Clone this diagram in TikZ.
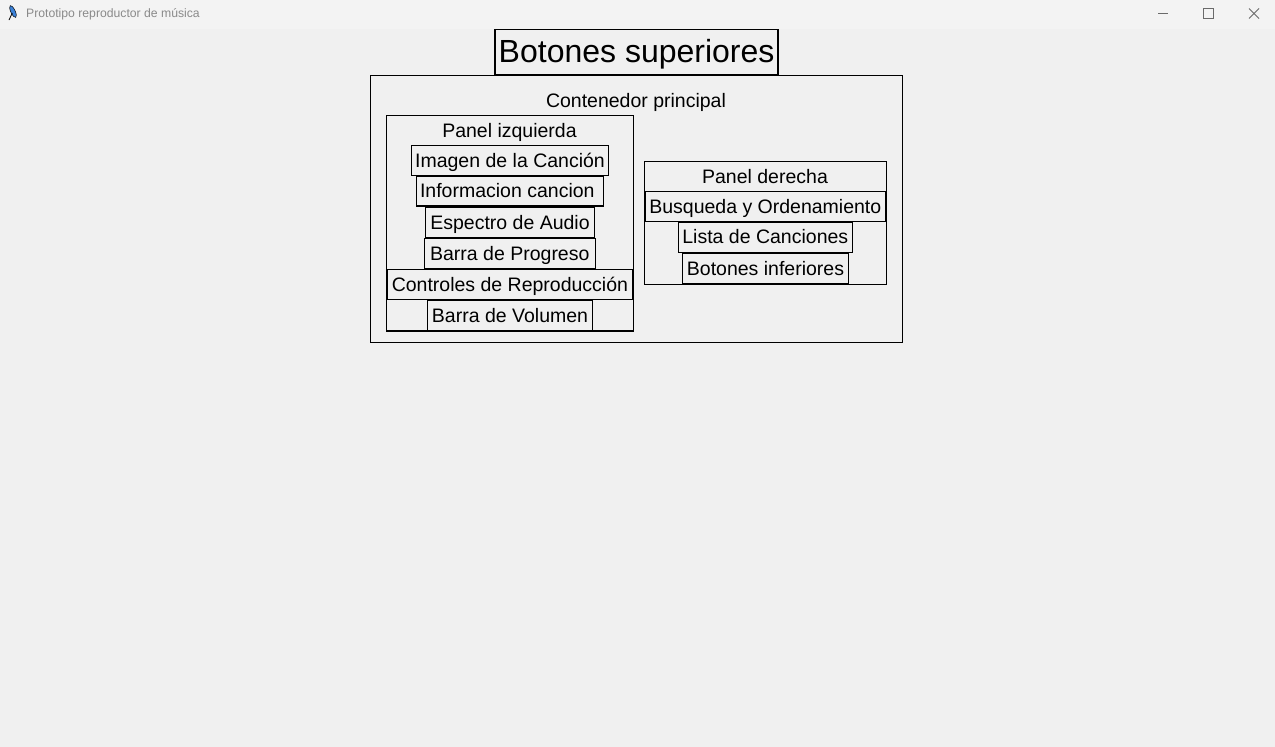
\documentclass[tikz,border=0pt]{standalone}
\usepackage{fontspec}
\setmainfont{Liberation Sans}
\definecolor{winbg}{HTML}{F0F0F0}
\definecolor{titlebg}{HTML}{F3F3F3}
\definecolor{titletxt}{HTML}{8A8A8A}
\definecolor{ctrl}{HTML}{6A6A6A}
\definecolor{feather}{HTML}{3C82D8}
\begin{document}
\begin{tikzpicture}[x=1pt,y=-1pt,
  frm/.style={draw=black,line width=1.2pt,inner sep=0pt},
  lbl/.style={draw=black,line width=1.3pt,inner sep=0pt,
    font=\fontsize{19.5}{23}\selectfont,text height=17.65pt,text depth=4.13pt},
  big/.style={draw=black,line width=1.3pt,inner sep=0pt,
    font=\fontsize{32}{38}\selectfont,text height=28.96pt,text depth=6.78pt},
  captxt/.style={inner sep=0pt,font=\fontsize{19.5}{23}\selectfont,
    text height=17.65pt,text depth=4.13pt},
  wctl/.style={draw=ctrl,line width=0.9pt}]
% background and title bar
\fill[winbg] (0,0) rectangle (1275,747);
\fill[titlebg] (0,0) rectangle (1275,29);
\useasboundingbox (0,0) rectangle (1275,747);
% window icon (feather)
\fill[feather,draw=black,line width=0.5pt,rotate around={-65:(13,11.5)}] (13,11.5) ellipse (6.5pt and 2.2pt);
\draw[black,line width=0.8pt] (9,20) -- (12.3,13);
\node[anchor=base west,inner sep=0pt,text=titletxt,font=\fontsize{12.2}{14}\selectfont] (title) at (26,17.5) {Prototipo reproductor de música};
% window controls
\draw[wctl] (1158,13.3) -- (1168,13.3);
\draw[wctl] (1203.3,8.3) rectangle (1213,18.3);
\draw[wctl] (1249,8.5) -- (1259,18.5);
\draw[wctl] (1249,18.5) -- (1259,8.5);
% top buttons
\node[big,minimum width=283pt,minimum height=45pt] (top) at (636.6,51.7) {Botones superiores};
% main container
\node[frm,minimum width=532.4pt,minimum height=266.6pt] (main) at (636.5,209) {};
\node[captxt] (maincap) at (636,100.5) {Contenedor principal};
% left panel
\node[frm,minimum width=247pt,minimum height=215.7pt] (left) at (509.8,223.2) {};
\node[captxt] (leftcap) at (509.5,130.5) {Panel izquierda};
\node[lbl,minimum width=197.4pt,minimum height=30.4pt] (img) at (510,160.5) {Imagen de la Canción};
\node[lbl,minimum width=187.4pt,minimum height=30pt] (info) at (510,191) {Informacion cancion\kern5.4pt};
\node[lbl,minimum width=169.4pt,minimum height=29.6pt] (spec) at (510,222.5) {Espectro de Audio};
\node[lbl,minimum width=171pt,minimum height=30pt] (prog) at (509.8,253.3) {Barra de Progreso};
\node[lbl,minimum width=245.7pt,minimum height=30pt] (ctrls) at (509.9,284.3) {Controles de Reproducción};
\node[lbl,minimum width=165.4pt,minimum height=30.7pt] (vol) at (510,315.4) {Barra de Volumen};
% right panel
\node[frm,minimum width=242pt,minimum height=122.6pt] (right) at (765.3,223) {};
\node[captxt] (rightcap) at (765,176.6) {Panel derecha};
\node[lbl,minimum width=240.7pt,minimum height=30pt] (search) at (765.3,206.3) {Busqueda y Ordenamiento};
\node[lbl,minimum width=174pt,minimum height=30.3pt] (list) at (765.3,237.2) {Lista de Canciones};
\node[lbl,minimum width=166.4pt,minimum height=30.2pt] (bot) at (765.5,268.6) {Botones inferiores};
\end{tikzpicture}
\end{document}
